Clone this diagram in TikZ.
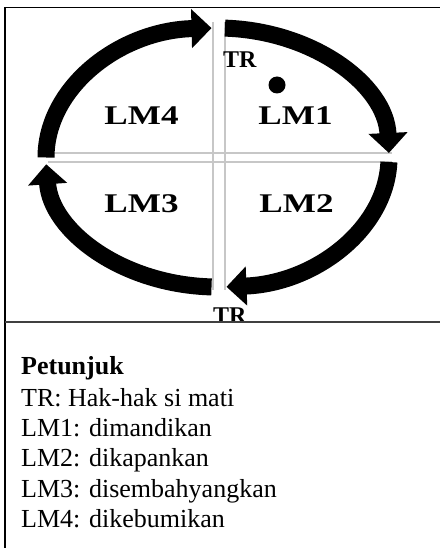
\documentclass[tikz,border=0pt]{standalone}
\usepackage{fontspec}
\setmainfont{Liberation Serif}
\usetikzlibrary{arrows.meta}
\begin{document}
\begin{tikzpicture}[x=1pt, y=-1pt,
    turn/.style={line width=17pt, -{Triangle[width=38pt, length=20pt]}},
    split/.style={line width=2pt, black!22},
    quad/.style={inner sep=0pt, anchor=base, xscale=1.3,
      font=\fontsize{27}{30}\selectfont\bfseries},
    trlabel/.style={inner sep=0pt, anchor=base west,
      font=\fontsize{24}{28}\selectfont\bfseries},
    legend/.style={inner sep=0pt, anchor=base west,
      font=\fontsize{26}{30}\selectfont}]
    \useasboundingbox (0,0) rectangle (440,548);

    % quadrant gaps
    \draw [split] (213,22) -- (213,290);
    \draw [split] (225,22) -- (225,290);
    \draw [split] (48,153) -- (392,153);
    \draw [split] (48,162) -- (392,162);

    % the four arrows round the cycle
    \coordinate (c) at (217.5,157.5);
    \draw [turn] (c) ++(180:171.5 and 129.5)
      arc [start angle=180, end angle=268, x radius=171.5, y radius=129.5];
    \draw [turn] (c) ++(272.5:171.5 and 129.5)
      arc [start angle=272.5, end angle=358, x radius=171.5, y radius=129.5];
    \draw [turn] (c) ++(2:171.5 and 129.5)
      arc [start angle=2, end angle=87, x radius=171.5, y radius=129.5];
    \draw [turn] (c) ++(92:171.5 and 129.5)
      arc [start angle=92, end angle=177, x radius=171.5, y radius=129.5];

    \node[quad] (lm4) at (141.5,125) {LM4};
    \node[quad] (lm1) at (295.5,125) {LM1};
    \node[quad] (lm3) at (141.5,212) {LM3};
    \node[quad] (lm2) at (296.5,212) {LM2};

    \node[trlabel] (trtop) at (223,68) {TR};
    \node[circle, fill, minimum size=17pt, inner sep=0pt] (dot) at (277,85) {};
    \node[trlabel] (trbot) at (213,323) {TR};

    % table frame
    \draw [line width=1.5pt] (5,548) -- (5,7.5) -- (440,7.5);
    \draw [line width=2pt, black!75] (5,322) -- (440,322);

    \node[legend, font=\fontsize{26}{30}\selectfont\bfseries] (head) at (21,374) {Petunjuk};
    \foreach \txt [count=\i] in {TR: Hak-hak si mati, LM1: dimandikan,
        LM2: dikapankan, LM3: disembahyangkan, LM4: dikebumikan} {
      \node[legend] (item\i) at (21,{376+30.3*\i}) {\txt};
    }

  \end{tikzpicture}
\end{document}
